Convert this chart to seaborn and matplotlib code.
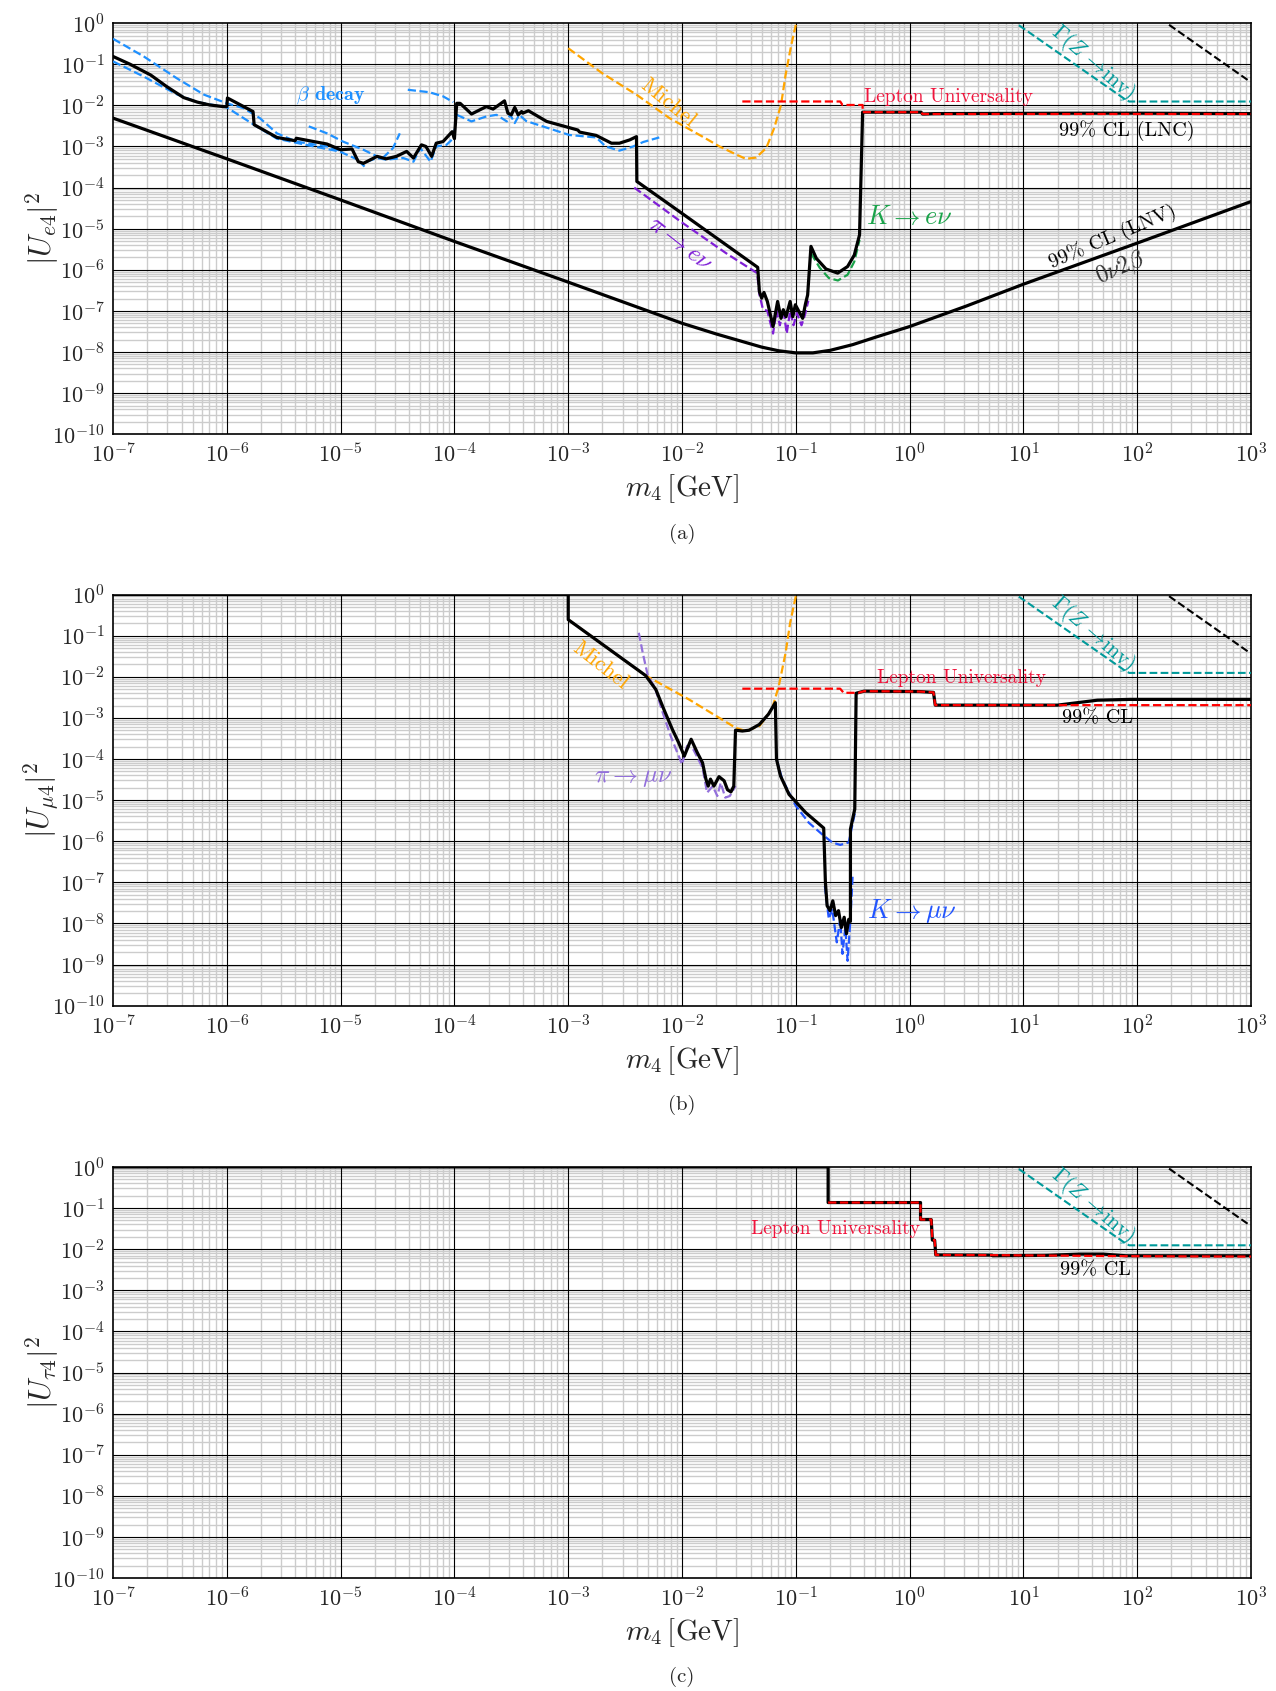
import numpy as np
import pandas as pd
import matplotlib
matplotlib.use("Agg")
import matplotlib.pyplot as plt
import matplotlib.ticker as mticker
import seaborn as sns

# ---------------- data (log10 m4 [GeV], log10 |U|^2) ----------------
# Panel (a) electron
lnc_e_logm = [-7.0, -6.85, -6.67, -6.53, -6.38, -6.26, -6.15, -6.03, -6.0, -5.995, -5.77, -5.76, -5.65, -5.56,
              -5.40, -5.39, -5.12, -5.0, -4.90, -4.845, -4.80, -4.68, -4.60, -4.51, -4.42, -4.36, -4.29, -4.25,
              -4.20, -4.16, -4.10, -4.06, -4.02, -4.0, -3.98, -3.95, -3.85, -3.72, -3.66, -3.56, -3.53, -3.50,
              -3.47, -3.44, -3.41, -3.40, -3.35, -3.19, -2.915, -2.90, -2.755, -2.62, -2.55, -2.46, -2.40,
              -2.397, -2.08, -1.335, -1.32, -1.30, -1.28, -1.25, -1.20, -1.16, -1.13, -1.11, -1.086, -1.05,
              -1.027, -1.004, -0.975, -0.94, -0.916, -0.896, -0.867, -0.82, -0.735, -0.632, -0.545, -0.486,
              -0.44, -0.413, 0.10, 0.114, 0.13, 0.22, 1.5, 2.0, 3.0]
lnc_e_logU = [-0.81, -1.0, -1.26, -1.54, -1.81, -1.92, -1.99, -2.03, -2.03, -1.82, -2.15, -2.47, -2.64, -2.78,
              -2.86, -2.80, -2.94, -3.08, -3.06, -3.37, -3.41, -3.24, -3.30, -3.24, -3.12, -3.28, -2.96, -3.0,
              -3.24, -2.92, -2.88, -2.76, -2.64, -2.81, -1.95, -1.95, -2.21, -2.03, -2.09, -1.89, -2.19, -2.23,
              -2.05, -2.23, -2.15, -2.19, -2.13, -2.39, -2.60, -2.65, -2.73, -2.92, -2.92, -2.84, -2.76,
              -3.85, -4.47, -5.94, -6.53, -6.69, -6.55, -6.77, -7.38, -6.77, -7.18, -6.97, -7.14, -6.77,
              -7.14, -6.85, -7.0, -7.18, -6.84, -6.61, -5.43, -5.72, -5.98, -6.08, -5.92, -5.64,
              -5.15, -2.165, -2.165, -2.21, -2.21, -2.20, -2.19, -2.19, -2.20]

lnv_logm = [-7.0, -6.0, -5.0, -4.0, -3.0, -2.0, -1.7, -1.5, -1.3, -1.15, -1.0, -0.85, -0.7, -0.5, -0.3, 0.0,
            0.5, 1.0, 2.0, 3.0]
lnv_logU = [-2.31, -3.30, -4.30, -5.31, -6.30, -7.30, -7.56, -7.72, -7.88, -7.97, -8.02, -8.02, -7.96, -7.82,
            -7.64, -7.38, -6.88, -6.35, -5.35, -4.34]

lu_e_logm = [-1.47, -0.61, -0.59, -0.413, -0.413, 0.10, 0.114, 3.0]
lu_e_logU = [-1.905, -1.905, -1.99, -1.99, -2.165, -2.165, -2.21, -2.21]

michel_e_logm = [-3.0, -2.70, -2.40, -2.11, -1.82, -1.67, -1.52, -1.44, -1.35, -1.26, -1.19, -1.13, -1.09, -1.04, -1.0]
michel_e_logU = [-0.61, -1.22, -1.74, -2.31, -2.76, -3.0, -3.20, -3.30, -3.27, -3.04, -2.55, -1.99, -1.26, -0.53, -0.04]

pie_logm = [-2.42, -2.0, -1.6, -1.34, -1.32, -1.29, -1.25, -1.20, -1.17, -1.14, -1.11, -1.08, -1.05, -1.02, -0.99, -0.95, -0.92, -0.89]
pie_logU = [-4.0, -4.85, -5.62, -6.08, -6.6, -6.95, -7.0, -7.55, -7.0, -7.35, -6.95, -7.55, -7.0, -7.35, -7.05, -7.35, -7.1, -6.75]

ke_logm = [-0.866, -0.79, -0.71, -0.63, -0.545, -0.486, -0.44]
ke_logU = [-5.6, -5.95, -6.2, -6.26, -6.12, -5.8, -5.27]

beta1_logm = [-7.0, -6.73, -6.44, -6.20, -6.0, -5.85, -5.71, -5.56, -5.39, -5.12, -4.98]
beta1_logU = [-0.38, -0.81, -1.34, -1.74, -1.95, -2.07, -2.31, -2.68, -2.88, -3.0, -3.12]
beta2_logm = [-7.0, -6.73, -6.44, -6.26, -6.0, -5.74, -5.56, -5.27, -5.01, -4.85, -4.79]
beta2_logU = [-0.93, -1.30, -1.73, -1.92, -2.05, -2.51, -2.81, -2.98, -3.12, -3.32, -3.49]
beta3_logm = [-5.28, -5.12, -4.98, -4.80, -4.68]
beta3_logU = [-2.51, -2.68, -2.88, -3.08, -3.24]
beta4_logm = [-4.77, -4.68, -4.60, -4.45, -4.36, -4.30, -4.21, -4.16, -4.07, -4.01, -3.98]
beta4_logU = [-3.37, -3.28, -3.32, -3.28, -3.37, -3.04, -3.37, -3.0, -2.96, -2.80, -2.23]
beta5_logm = [-4.63, -4.54, -4.48]
beta5_logU = [-3.28, -3.04, -2.68]
beta6_logm = [-4.41, -4.22, -4.10, -4.01]
beta6_logU = [-1.62, -1.68, -1.78, -1.92]
beta7_logm = [-3.98, -3.85, -3.72, -3.63, -3.54, -3.51, -3.47, -3.43, -3.37, -2.99, -2.755, -2.67, -2.55, -2.43, -2.34, -2.20]
beta7_logU = [-2.23, -2.39, -2.27, -2.23, -2.39, -2.23, -2.43, -2.23, -2.38, -2.72, -2.78, -3.0, -3.10, -3.0, -2.89, -2.78]

# Invisible Z width and top-right dashed line (all panels)
zinv_logm = [0.96, 1.90, 1.93, 3.0]
zinv_logU = [-0.05, -1.865, -1.906, -1.906]
topdash_logm = [2.28, 2.97]
topdash_logU = [-0.04, -1.38]

# Panel (b) muon
lnc_mu_logm = [-7.0, -3.0, -3.0, -2.32, -2.23, -2.16, -2.085, -2.03, -1.98, -1.92, -1.865, -1.82, -1.79,
               -1.77, -1.75, -1.72, -1.675, -1.63, -1.60, -1.57, -1.545, -1.53, -1.47, -1.41, -1.32, -1.24,
               -1.18, -1.17, -1.135, -1.06, -0.915, -0.755, -0.74, -0.725, -0.70, -0.675, -0.65, -0.625,
               -0.60, -0.575, -0.555, -0.535, -0.52, -0.52, -0.482, -0.47, -0.40, 0.09, 0.21, 0.225, 1.30,
               1.65, 1.94, 3.0]
lnc_mu_logU = [0.0, 0.0, -0.61, -1.97, -2.31, -2.79, -3.28, -3.6, -3.93, -3.52, -3.85, -4.09, -4.49,
               -4.66, -4.49, -4.66, -4.43, -4.53, -4.75, -4.80, -4.66, -3.30, -3.32, -3.30, -3.16, -2.91,
               -2.63, -4.0, -4.41, -4.86, -5.30, -5.68, -7.0, -7.57, -7.69, -7.45, -7.81, -7.69,
               -8.1, -7.85, -8.25, -7.9, -7.95, -5.71, -5.22, -2.40, -2.35, -2.36, -2.38, -2.69, -2.69,
               -2.57, -2.55, -2.55]

lu_mu_logm = [-1.47, -0.61, -0.58, -0.45, -0.40, 0.09, 0.21, 0.225, 3.0]
lu_mu_logU = [-2.29, -2.29, -2.39, -2.39, -2.35, -2.36, -2.38, -2.69, -2.69]

michel_mu_logm = [-3.0, -2.32, -1.94, -1.53, -1.44, -1.32, -1.21, -1.15, -1.09, -1.05, -1.0]
michel_mu_logU = [-0.61, -1.97, -2.55, -3.24, -3.32, -3.2, -2.79, -2.23, -1.42, -0.69, -0.04]

pimu_logm = [-2.38, -2.345, -2.30, -2.24, -2.17, -2.10, -2.0, -1.955, -1.90, -1.82, -1.78, -1.73, -1.69, -1.66, -1.62, -1.58, -1.53]
pimu_logU = [-0.93, -1.42, -1.98, -2.25, -2.87, -3.44, -4.13, -3.68, -3.77, -4.21, -4.82, -4.66, -4.90, -4.58, -4.94, -4.90, -4.66]

kmu1_logm = [-1.17, -1.12, -1.0, -0.886, -0.77, -0.68, -0.61, -0.535, -0.48]
kmu1_logU = [-4.0, -4.49, -5.14, -5.55, -5.83, -6.03, -6.09, -6.03, -5.30]
kmu2_logm = [-0.745, -0.71, -0.68, -0.64, -0.61, -0.59, -0.565, -0.545, -0.52, -0.50]
kmu2_logU = [-7.09, -7.89, -7.65, -8.46, -7.9, -8.74, -8.1, -8.91, -7.9, -6.8]

# Panel (c) tau
lnc_tau_logm = [-7.0, -0.716, -0.716, 0.096, 0.096, 0.19, 0.20, 0.22, 0.23, 0.725, 0.73, 1.2, 1.5, 1.7, 1.9, 3.0]
lnc_tau_logU = [0.0, 0.0, -0.866, -0.866, -1.28, -1.28, -1.78, -1.78, -2.14, -2.145, -2.16, -2.15, -2.12, -2.12, -2.16, -2.16]
lu_tau_logm = [-0.716, 0.096, 0.096, 0.19, 0.20, 0.22, 0.23, 0.725, 1.9, 3.0]
lu_tau_logU = [-0.866, -0.866, -1.28, -1.28, -1.78, -1.78, -2.14, -2.145, -2.17, -2.18]

x_ticks_exp = list(range(-7, 4))
y_ticks_exp = list(range(-10, 1))

# ---------------- style ----------------
sns.set_theme(style="white")
plt.rcParams["font.family"] = ["cmr10", "DejaVu Serif"]
plt.rcParams["mathtext.fontset"] = "cm"
plt.rcParams["axes.formatter.use_mathtext"] = True
plt.rcParams["axes.unicode_minus"] = False

C_BLACK = "black"
C_RED = "#ff0000"
C_RED_TXT = "#f0143c"
C_ORANGE = "#ffa500"
C_BETA = "#1e90ff"
C_PIE = "#7f1fd6"
C_PIMU = "#9370db"
C_KE = "#1aa34a"
C_KMU = "#2255ff"
C_TEAL = "#009a9a"


def line(ax, lm, lu, color, lw, ls="-", z=3):
    df = pd.DataFrame({"m": np.power(10.0, lm), "u": np.power(10.0, lu)})
    sns.lineplot(data=df, x="m", y="u", ax=ax, color=color, lw=lw, linestyle=ls,
                 sort=False, estimator=None, zorder=z, legend=False)


def setup(ax, ylabel):
    ax.set_xscale("log")
    ax.set_yscale("log")
    ax.set_xlim(1e-7, 1e3)
    ax.set_ylim(1e-10, 1.0)
    xmaj = [10.0 ** e for e in x_ticks_exp]
    ymaj = [10.0 ** e for e in y_ticks_exp]
    ax.xaxis.set_major_locator(mticker.FixedLocator(xmaj))
    ax.yaxis.set_major_locator(mticker.FixedLocator(ymaj))
    ax.xaxis.set_major_formatter(mticker.LogFormatterSciNotation())
    ax.yaxis.set_major_formatter(mticker.LogFormatterSciNotation())
    ax.xaxis.set_minor_locator(mticker.LogLocator(base=10, subs=np.arange(2, 10), numticks=100))
    ax.yaxis.set_minor_locator(mticker.LogLocator(base=10, subs=np.arange(2, 10), numticks=100))
    ax.xaxis.set_minor_formatter(mticker.NullFormatter())
    ax.yaxis.set_minor_formatter(mticker.NullFormatter())
    ax.grid(which="minor", color="#cccccc", lw=1.0)
    ax.grid(which="major", visible=False)
    ax.set_axisbelow(True)
    for v in xmaj[1:-1]:
        ax.axvline(v, color="black", lw=0.8, zorder=1)
    for v in ymaj[1:-1]:
        ax.axhline(v, color="black", lw=0.8, zorder=1)
    ax.tick_params(which="both", direction="in", labelsize=16, color="black")
    ax.tick_params(which="major", length=4, pad=6)
    ax.tick_params(which="minor", length=2)
    for s in ax.spines.values():
        s.set_color("black")
        s.set_linewidth(1.2)
    ax.set_xlabel(r"$m_4\,[\mathrm{GeV}]$", fontsize=21, labelpad=4)
    ax.set_ylabel(ylabel, fontsize=22, labelpad=-6)
    # common Z-invisible and top-right dashed limits
    line(ax, zinv_logm, zinv_logU, C_TEAL, 1.5, "--")
    line(ax, topdash_logm, topdash_logU, C_BLACK, 1.5, "--")
    ax.text(10 ** 1.61, 10 ** -0.95, r"$\Gamma(Z\,\rightarrow\!\mathrm{inv})$", color=C_TEAL, fontsize=15.5,
            rotation=-41, ha="center", va="center", rotation_mode="anchor")


fig = plt.figure(figsize=(12.76, 16.91), dpi=100)
L, W, H = 0.0886, 0.8918, 0.2431
axa = fig.add_axes([L, 0.7432, W, H])
axb = fig.add_axes([L, 0.4053, W, H])
axc = fig.add_axes([L, 0.0668, W, H])

# ---------------- panel (a) ----------------
setup(axa, r"$|U_{e4}|^2$")
for bm, bu in [(beta1_logm, beta1_logU), (beta2_logm, beta2_logU), (beta3_logm, beta3_logU),
               (beta4_logm, beta4_logU), (beta5_logm, beta5_logU), (beta6_logm, beta6_logU),
               (beta7_logm, beta7_logU)]:
    line(axa, bm, bu, C_BETA, 1.6, "--")
line(axa, michel_e_logm, michel_e_logU, C_ORANGE, 1.6, "--")
line(axa, pie_logm, pie_logU, C_PIE, 1.6, "--")
line(axa, ke_logm, ke_logU, C_KE, 1.6, "--")
line(axa, lnv_logm, lnv_logU, C_BLACK, 2.3, "-", z=4)
line(axa, lnc_e_logm, lnc_e_logU, C_BLACK, 2.3, "-", z=4)
line(axa, lu_e_logm, lu_e_logU, C_RED, 1.6, "--", z=5)

axa.text(10 ** -5.085, 10 ** -1.745, r"$\beta$ decay", color=C_BETA, fontsize=14.5,
         family=["cmb10", "DejaVu Serif"], ha="center", va="center")
axa.text(10 ** -2.12, 10 ** -1.94, "Michel", color=C_ORANGE, fontsize=16, rotation=-39,
         ha="center", va="center", rotation_mode="anchor")
axa.text(10 ** 0.346, 10 ** -1.80, "Lepton Universality", color=C_RED_TXT, fontsize=14,
         ha="center", va="center")
axa.text(10 ** 1.91, 10 ** -2.62, "99% CL (LNC)", color=C_BLACK, fontsize=14.5,
         ha="center", va="center")
axa.text(10 ** 0.0, 10 ** -4.71, r"$K\rightarrow e\nu$", color=C_KE, fontsize=19,
         ha="center", va="center")
axa.text(10 ** -2.02, 10 ** -5.36, r"$\pi\rightarrow e\nu$", color=C_PIE, fontsize=18, rotation=-38,
         ha="center", va="center", rotation_mode="anchor")
axa.text(10 ** 1.787, 10 ** -5.20, "99% CL (LNV)", color=C_BLACK, fontsize=14.5, rotation=23,
         ha="center", va="center", rotation_mode="anchor")
axa.text(10 ** 1.85, 10 ** -5.95, r"$0\nu2\beta$", color="#333333", fontsize=17, rotation=23,
         ha="center", va="center", rotation_mode="anchor")

# ---------------- panel (b) ----------------
setup(axb, r"$|U_{\mu4}|^2$")
line(axb, michel_mu_logm, michel_mu_logU, C_ORANGE, 1.6, "--")
line(axb, pimu_logm, pimu_logU, C_PIMU, 1.6, "--")
line(axb, kmu1_logm, kmu1_logU, C_KMU, 1.6, "--")
line(axb, kmu2_logm, kmu2_logU, C_KMU, 1.6, "--")
line(axb, lnc_mu_logm, lnc_mu_logU, C_BLACK, 2.3, "-", z=4)
line(axb, lu_mu_logm, lu_mu_logU, C_RED, 1.6, "--", z=5)
axb.text(10 ** -2.72, 10 ** -1.73, "Michel", color=C_ORANGE, fontsize=16, rotation=-38,
         ha="center", va="center", rotation_mode="anchor")
axb.text(10 ** -2.43, 10 ** -4.46, r"$\pi\rightarrow\mu\nu$", color=C_PIMU, fontsize=18,
         ha="center", va="center")
axb.text(10 ** 0.46, 10 ** -2.02, "Lepton Universality", color=C_RED_TXT, fontsize=14,
         ha="center", va="center")
axb.text(10 ** 1.647, 10 ** -3.02, "99% CL", color=C_BLACK, fontsize=14.5, ha="center", va="center")
axb.text(10 ** 0.02, 10 ** -7.7, r"$K\rightarrow\mu\nu$", color=C_KMU, fontsize=19,
         ha="center", va="center")

# ---------------- panel (c) ----------------
setup(axc, r"$|U_{\tau4}|^2$")
line(axc, lnc_tau_logm, lnc_tau_logU, C_BLACK, 2.3, "-", z=4)
line(axc, lu_tau_logm, lu_tau_logU, C_RED, 1.6, "--", z=5)
axc.text(10 ** -0.655, 10 ** -1.50, "Lepton Universality", color=C_RED_TXT, fontsize=14,
         ha="center", va="center")
axc.text(10 ** 1.63, 10 ** -2.51, "99% CL", color=C_BLACK, fontsize=14.5, ha="center", va="center")

# panel captions
cx = 682 / 1276
for lab, ypx in [("(a)", 534), ("(b)", 1105), ("(c)", 1677)]:
    fig.text(cx, 1 - ypx / 1691, lab, ha="center", va="center", fontsize=15)

fig.savefig("out.png", dpi=100)
